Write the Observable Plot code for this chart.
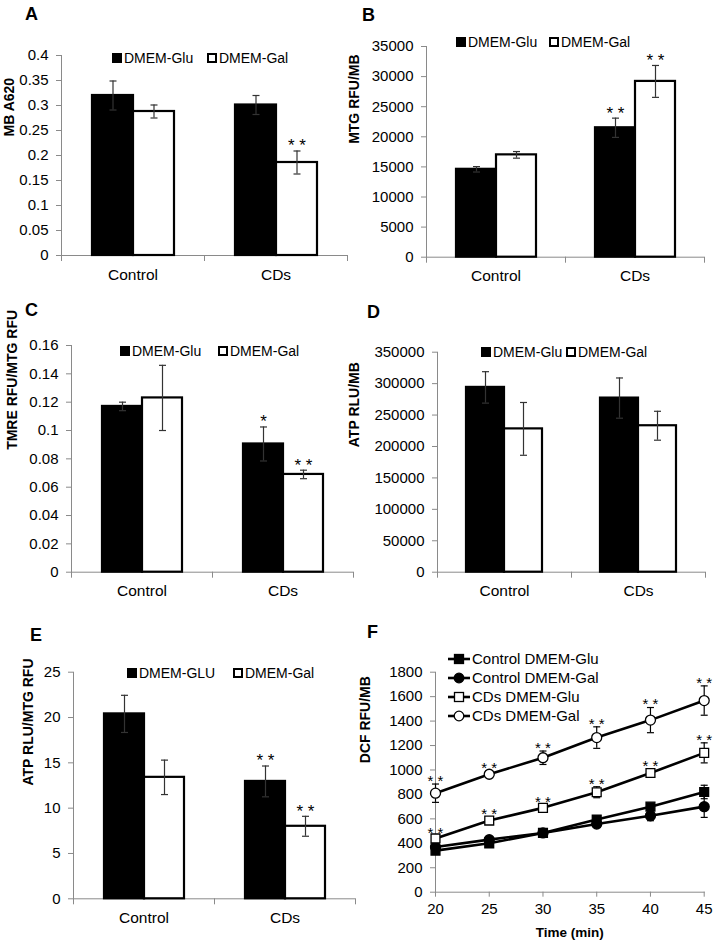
<!DOCTYPE html>
<html><head><meta charset="utf-8">
<script src="https://cdn.jsdelivr.net/npm/d3@7"></script>
<script src="https://cdn.jsdelivr.net/npm/@observablehq/plot@0.6"></script>
<style>
body{margin:0;background:#fff;}
#fig{position:relative;width:714px;height:940px;font-family:"Liberation Sans",Arial,sans-serif;color:#000;overflow:hidden;background:#fff;}
.panel{position:absolute;}
.panel svg{display:block;overflow:visible;max-width:none;}
.letter{position:absolute;font-weight:bold;font-size:18px;line-height:1;}
.leg{position:absolute;font-size:14px;line-height:14px;white-space:nowrap;display:flex;align-items:center;}
.sq{display:inline-block;width:10px;height:10px;box-sizing:border-box;margin-right:2px;border:2px solid #000;}
.fleg{position:absolute;font-size:15px;line-height:15px;white-space:nowrap;display:flex;align-items:center;}
.fleg svg{margin-right:2px;}
</style></head><body><div id="fig"></div>
<script>
// ---------- shared categories ----------
const groups = ["Control", "CDs"];
const media = ["DMEM-Glu", "DMEM-Gal"];

// ---------- Panel A: MB A620 ----------
const A_glu = [0.320, 0.301];
const A_gluErr = [0.029, 0.019];
const A_gal = [0.288, 0.186];
const A_galErr = [0.013, 0.023];
const A_gluSig = ["", ""];
const A_galSig = ["", "**"];
const A_ticks = [0, 0.05, 0.1, 0.15, 0.2, 0.25, 0.3, 0.35, 0.4];

// ---------- Panel B: MTG RFU/MB ----------
const B_glu = [14600, 21500];
const B_gluErr = [450, 1600];
const B_gal = [17000, 29200];
const B_galErr = [550, 2650];
const B_gluSig = ["", "**"];
const B_galSig = ["", "**"];
const B_ticks = [0, 5000, 10000, 15000, 20000, 25000, 30000, 35000];

// ---------- Panel C: TMRE RFU/MTG RFU ----------
const C_glu = [0.117, 0.0905];
const C_gluErr = [0.003, 0.012];
const C_gal = [0.123, 0.069];
const C_galErr = [0.023, 0.003];
const C_gluSig = ["", "*"];
const C_galSig = ["", "**"];
const C_ticks = [0, 0.02, 0.04, 0.06, 0.08, 0.1, 0.12, 0.14, 0.16];

// ---------- Panel D: ATP RLU/MB ----------
const D_glu = [294000, 277000];
const D_gluErr = [25000, 32000];
const D_gal = [228000, 233000];
const D_galErr = [42000, 23000];
const D_gluSig = ["", ""];
const D_galSig = ["", ""];
const D_ticks = [0, 50000, 100000, 150000, 200000, 250000, 300000, 350000];

// ---------- Panel E: ATP RLU/MTG RFU ----------
const E_media = ["DMEM-GLU", "DMEM-Gal"];
const E_glu = [20.4, 12.95];
const E_gluErr = [2.05, 1.7];
const E_gal = [13.4, 8.0];
const E_galErr = [1.9, 1.1];
const E_gluSig = ["", "**"];
const E_galSig = ["", "**"];
const E_ticks = [0, 5, 10, 15, 20, 25];

// ---------- Panel F: DCF RFU/MB over time ----------
const F_times = [20, 25, 30, 35, 40, 45];
const F_series = ["Control DMEM-Glu", "Control DMEM-Gal", "CDs DMEM-Glu", "CDs DMEM-Gal"];
const F_ctrlGlu = [340, 400, 485, 595, 700, 820];
const F_ctrlGluErr = [15, 15, 15, 20, 25, 55];
const F_ctrlGal = [370, 430, 485, 558, 625, 700];
const F_ctrlGalErr = [15, 15, 15, 20, 40, 88];
const F_cdsGlu = [440, 586, 690, 818, 975, 1140];
const F_cdsGluErr = [20, 25, 20, 45, 32, 82];
const F_cdsGal = [810, 965, 1100, 1265, 1408, 1568];
const F_cdsGalErr = [75, 25, 55, 88, 103, 120];
const F_cdsGluSig = ["**", "**", "**", "**", "**", "**"];
const F_cdsGalSig = ["**", "**", "**", "**", "**", "**"];
const F_yTicks = [0, 200, 400, 600, 800, 1000, 1200, 1400, 1600, 1800];

// ---------- styling ----------
const GRAY = "#8a8a8a", ERR = "#333";
const FONT = '"Liberation Sans", Arial, sans-serif';
const fmt = d => String(+d.toFixed(4));
const starText = d => d.sig.split("").join(" ");
const cap = {draw(ctx) { ctx.moveTo(-3.5, 0); ctx.lineTo(3.5, 0); }};
const fig = document.getElementById("fig");

function place(el, L) {
  const div = document.createElement("div");
  div.className = "panel";
  div.style.left = L.left + "px";
  div.style.top = L.top + "px";
  div.style.width = L.width + "px";
  div.appendChild(el);
  fig.appendChild(div);
}

function barRows(glu, gluErr, gal, galErr, gluSig, galSig) {
  return groups.flatMap((g, i) => [
    {group: g, medium: media[0], value: glu[i], err: gluErr[i], sig: gluSig[i]},
    {group: g, medium: media[1], value: gal[i], err: galErr[i], sig: galSig[i]}
  ]);
}

function barPanel(rows, ticks, yLabel, L) {
  const innerH = L.height - L.marginTop - L.marginBottom;
  return Plot.plot({
    width: L.width, height: L.height,
    marginLeft: L.marginLeft, marginRight: L.marginRight,
    marginTop: L.marginTop, marginBottom: L.marginBottom,
    style: {fontFamily: FONT, fontSize: "15px", color: "black", background: "transparent", overflow: "visible"},
    fx: {domain: groups, padding: 0},
    x: {domain: media, paddingInner: 0, paddingOuter: 0.72, axis: null},
    y: {domain: [ticks[0], ticks[ticks.length - 1]]},
    color: {domain: media, range: ["black", "white"]},
    marks: [
      Plot.frame({anchor: "left", stroke: GRAY, facetAnchor: "left"}),
      Plot.ruleY([0], {stroke: GRAY}),
      Plot.frame({anchor: "left", stroke: GRAY, insetTop: innerH, insetBottom: -5}),
      Plot.frame({anchor: "right", stroke: GRAY, insetTop: innerH, insetBottom: -5, facetAnchor: "right"}),
      Plot.barY(rows, {fx: "group", x: "medium", y: "value", fill: "medium", stroke: "black", strokeWidth: 2.2}),
      Plot.ruleX(rows, {fx: "group", x: "medium", y1: d => d.value - d.err, y2: d => d.value + d.err, stroke: ERR, strokeWidth: 1.2}),
      Plot.dot(rows, {fx: "group", x: "medium", y: d => d.value + d.err, symbol: cap, fill: "none", stroke: ERR, strokeWidth: 1.2}),
      Plot.dot(rows, {fx: "group", x: "medium", y: d => d.value - d.err, symbol: cap, fill: "none", stroke: ERR, strokeWidth: 1.2}),
      Plot.text(rows.filter(d => d.sig), {fx: "group", x: "medium", y: d => d.value + d.err, text: starText, fill: "black", fontSize: 17, lineAnchor: "middle", dy: -5}),
      Plot.axisY({ticks, tickFormat: fmt, tickSize: 5, tickPadding: 8, stroke: GRAY, fill: "black", label: null, fontSize: 15}),
      Plot.axisFx({anchor: "bottom", tickSize: 0, tickPadding: 13, label: null, fill: "black", fontSize: 15.5}),
      Plot.text([yLabel], {frameAnchor: "left", facetAnchor: "left", rotate: -90, lineAnchor: "top", dx: L.labelDx, dy: L.labelDy, fill: "black", fontWeight: "bold", fontSize: 14})
    ]
  });
}

const LA = {left: 0, top: 0, width: 357, height: 290, marginLeft: 60, marginRight: 10, marginTop: 55, marginBottom: 35, labelDx: -57, labelDy: -19};
const LB = {left: 340, top: 0, width: 374, height: 290, marginLeft: 85, marginRight: 10, marginTop: 46, marginBottom: 33.3, labelDx: -77, labelDy: -8};
const LC = {left: 0, top: 290, width: 357, height: 330, marginLeft: 70, marginRight: 4, marginTop: 55, marginBottom: 48.3, labelDx: -64, labelDy: -9};
const LD = {left: 340, top: 290, width: 374, height: 330, marginLeft: 96, marginRight: 9, marginTop: 61.7, marginBottom: 48.3, labelDx: -88, labelDy: -15};
const LE = {left: 0, top: 620, width: 357, height: 320, marginLeft: 72, marginRight: 2, marginTop: 51.7, marginBottom: 41.7, labelDx: -50, labelDy: 0};
const LF = {left: 340, top: 620, width: 374, height: 320, marginLeft: 95, marginRight: 10.3, marginTop: 51.7, marginBottom: 48.3, labelDx: -75, labelDy: -19};

place(barPanel(barRows(A_glu, A_gluErr, A_gal, A_galErr, A_gluSig, A_galSig), A_ticks, "MB A620", LA), LA);
place(barPanel(barRows(B_glu, B_gluErr, B_gal, B_galErr, B_gluSig, B_galSig), B_ticks, "MTG RFU/MB", LB), LB);
place(barPanel(barRows(C_glu, C_gluErr, C_gal, C_galErr, C_gluSig, C_galSig), C_ticks, "TMRE RFU/MTG RFU", LC), LC);
place(barPanel(barRows(D_glu, D_gluErr, D_gal, D_galErr, D_gluSig, D_galSig), D_ticks, "ATP RLU/MB", LD), LD);
place(barPanel(barRows(E_glu, E_gluErr, E_gal, E_galErr, E_gluSig, E_galSig), E_ticks, "ATP RLU/MTG RFU", LE), LE);

// ---------- Panel F ----------
const F_vals = [F_ctrlGlu, F_ctrlGal, F_cdsGlu, F_cdsGal];
const F_errs = [F_ctrlGluErr, F_ctrlGalErr, F_cdsGluErr, F_cdsGalErr];
const F_sigs = [F_times.map(() => ""), F_times.map(() => ""), F_cdsGluSig, F_cdsGalSig];
const fRows = F_series.flatMap((s, k) => F_times.map((t, i) => ({series: s, t, value: F_vals[k][i], err: F_errs[k][i], sig: F_sigs[k][i]})));
const F_symbols = ["square", "circle", "square", "circle"];
const F_fills = ["black", "black", "white", "white"];

const plotF = Plot.plot({
  width: LF.width, height: LF.height,
  marginLeft: LF.marginLeft, marginRight: LF.marginRight, marginTop: LF.marginTop, marginBottom: LF.marginBottom,
  style: {fontFamily: FONT, fontSize: "15px", color: "black", background: "transparent", overflow: "visible"},
  x: {domain: [F_times[0], F_times[F_times.length - 1]]},
  y: {domain: [F_yTicks[0], F_yTicks[F_yTicks.length - 1]]},
  symbol: {domain: F_series, range: F_symbols},
  color: {domain: F_series, range: F_fills},
  marks: [
    Plot.frame({anchor: "left", stroke: GRAY}),
    Plot.frame({anchor: "bottom", stroke: GRAY}),
    Plot.axisY({ticks: F_yTicks, tickFormat: fmt, tickSize: 5, tickPadding: 8, stroke: GRAY, fill: "black", label: null, fontSize: 15}),
    Plot.axisX({ticks: F_times, tickFormat: fmt, tickSize: 5, tickPadding: 6, stroke: GRAY, fill: "black", label: null, fontSize: 15}),
    Plot.ruleX(fRows, {x: "t", y1: d => d.value - d.err, y2: d => d.value + d.err, stroke: "black", strokeWidth: 1.2}),
    Plot.dot(fRows, {x: "t", y: d => d.value + d.err, symbol: cap, fill: "none", stroke: "black", strokeWidth: 1.2}),
    Plot.dot(fRows, {x: "t", y: d => d.value - d.err, symbol: cap, fill: "none", stroke: "black", strokeWidth: 1.2}),
    Plot.line(fRows, {x: "t", y: "value", z: "series", stroke: "black", strokeWidth: 2.6}),
    Plot.dot(fRows, {x: "t", y: "value", symbol: "series", fill: "series", stroke: "black", strokeWidth: 1.3, r: 5}),
    Plot.text(fRows.filter(d => d.sig), {x: "t", y: d => d.value + d.err, text: starText, fill: "black", fontSize: 15, lineAnchor: "middle", dy: -3}),
    Plot.text(["DCF RFU/MB"], {frameAnchor: "left", rotate: -90, lineAnchor: "top", dx: LF.labelDx, dy: LF.labelDy, fill: "black", fontWeight: "bold", fontSize: 14}),
    Plot.text(["Time (min)"], {frameAnchor: "bottom", lineAnchor: "middle", dy: 40, fill: "black", fontWeight: "bold", fontSize: 13.5})
  ]
});
place(plotF, LF);

// ---------- panel letters ----------
[["A", 25, 5], ["B", 362, 6], ["C", 25, 301], ["D", 367, 303], ["E", 30, 626], ["F", 367, 623]].forEach(([t, x, y]) => {
  const d = document.createElement("div");
  d.className = "letter"; d.textContent = t;
  d.style.left = x + "px"; d.style.top = y + "px";
  fig.appendChild(d);
});

// ---------- bar legends ----------
function barLegend(labels, x1, x2, yc) {
  [[labels[0], x1, true], [labels[1], x2, false]].forEach(([t, x, filled]) => {
    const d = document.createElement("div");
    d.className = "leg";
    d.style.left = x + "px"; d.style.top = (yc - 7) + "px";
    const s = document.createElement("span");
    s.className = "sq"; s.style.background = filled ? "#000" : "#fff";
    d.appendChild(s);
    d.appendChild(document.createTextNode(t));
    fig.appendChild(d);
  });
}
barLegend(media, 112, 207, 58);
barLegend(media, 456, 549, 42);
barLegend(media, 120, 218, 351);
barLegend(media, 481, 566, 352);
barLegend(E_media, 127, 233, 673);

// ---------- F legend ----------
F_series.forEach((s, k) => {
  const d = document.createElement("div");
  d.className = "fleg";
  d.style.left = "448px"; d.style.top = (659 + 19 * k - 8) + "px";
  const ns = "http://www.w3.org/2000/svg";
  const svg = document.createElementNS(ns, "svg");
  svg.setAttribute("width", 22); svg.setAttribute("height", 14);
  const ln = document.createElementNS(ns, "line");
  ln.setAttribute("x1", 0); ln.setAttribute("x2", 22); ln.setAttribute("y1", 7); ln.setAttribute("y2", 7);
  ln.setAttribute("stroke", "black"); ln.setAttribute("stroke-width", 2.6);
  svg.appendChild(ln);
  let m;
  if (F_symbols[k] === "square") {
    m = document.createElementNS(ns, "rect");
    m.setAttribute("x", 6.5); m.setAttribute("y", 2.5); m.setAttribute("width", 9); m.setAttribute("height", 9);
  } else {
    m = document.createElementNS(ns, "circle");
    m.setAttribute("cx", 11); m.setAttribute("cy", 7); m.setAttribute("r", 4.8);
  }
  m.setAttribute("fill", F_fills[k]); m.setAttribute("stroke", "black"); m.setAttribute("stroke-width", 1.3);
  svg.appendChild(m);
  d.appendChild(svg);
  d.appendChild(document.createTextNode(s));
  fig.appendChild(d);
});
</script></body></html>
